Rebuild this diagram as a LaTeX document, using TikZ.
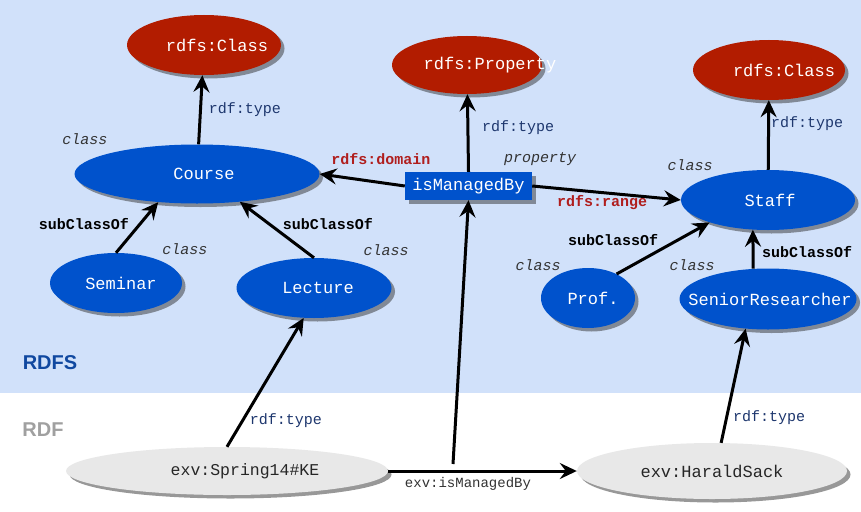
\documentclass[tikz,border=0pt]{standalone}
\usepackage{fontspec}
\setmainfont{Liberation Sans}
\setmonofont{Liberation Mono}
\usetikzlibrary{shapes.geometric,arrows.meta,shadows}
\definecolor{bgblue}{RGB}{209,225,250}
\definecolor{ndblue}{RGB}{0,82,204}
\definecolor{ndred}{RGB}{178,28,0}
\definecolor{ndgray}{RGB}{232,232,232}
\definecolor{lblblue}{RGB}{30,55,110}
\definecolor{lblred}{RGB}{176,30,30}
\definecolor{rdfsblue}{RGB}{16,72,160}
\definecolor{rdfgray}{RGB}{160,160,160}
\newcommand\shtx[2]{\makebox[0pt]{\hspace*{#1pt}#2}}
\begin{document}
\begin{tikzpicture}[x=1pt,y=-1pt,
  shad/.style={drop shadow={shadow xshift=3.5pt,shadow yshift=-3.5pt,opacity=.5,fill=black!80}},
  ell/.style={ellipse,inner sep=0pt,font=\ttfamily\fontsize{17}{20}\selectfont,shad},
  redell/.style={ell,fill=ndred,text=white},
  blueell/.style={ell,fill=ndblue,text=white},
  grayell/.style={ell,fill=ndgray,text=black!85},
  boxnode/.style={rectangle,fill=ndblue,text=white,inner sep=0pt,font=\ttfamily\fontsize{17}{20}\selectfont,shad},
  typelbl/.style={font=\ttfamily\fontsize{15}{18}\selectfont,text=lblblue,inner sep=0pt},
  clslbl/.style={font=\ttfamily\itshape\fontsize{15}{18}\selectfont,text=black!80,inner sep=0pt},
  sublbl/.style={font=\ttfamily\bfseries\fontsize{15}{18}\selectfont,text=black,inner sep=0pt},
  redlbl/.style={font=\ttfamily\bfseries\fontsize{15}{18}\selectfont,text=lblred,inner sep=0pt},
  exvlbl/.style={font=\ttfamily\fontsize{14}{17}\selectfont,text=black!80,inner sep=0pt},
  arr/.style={line width=3pt,-{Stealth[length=17pt,width=16pt,inset=6pt]}}
]
\useasboundingbox (0,0) rectangle (861,511);
\fill[bgblue] (0,0) rectangle (861,393);
\fill[white] (0,393) rectangle (861,511);

% nodes
\node[redell,minimum width=154pt,minimum height=60pt] (clsL) at (204,45) {\shtx{26}{rdfs:Class}};
\node[redell,minimum width=150pt,minimum height=58pt] (prop) at (467,65) {\shtx{46}{rdfs:Property}};
\node[redell,minimum width=152pt,minimum height=60pt] (clsR) at (769,70) {\shtx{30}{rdfs:Class}};
\node[blueell,minimum width=245pt,minimum height=59pt] (course) at (197,174) {\shtx{14}{Course}};
\node[blueell,minimum width=174pt,minimum height=60pt] (staff) at (768,200) {\shtx{4}{Staff}};
\node[blueell,minimum width=132pt,minimum height=60pt] (sem) at (116,283) {\shtx{10}{Seminar}};
\node[blueell,minimum width=155pt,minimum height=60pt] (lec) at (314,288) {\shtx{8}{Lecture}};
\node[blueell,minimum width=94pt,minimum height=60pt] (prof) at (588,298) {\shtx{10}{Prof.}};
\node[blueell,minimum width=177pt,minimum height=61pt] (sr) at (768,299) {\shtx{4}{SeniorResearcher}};
\node[grayell,minimum width=322pt,minimum height=48pt,font=\ttfamily\fontsize{16.5}{19}\selectfont] (spr) at (227,471) {\shtx{36}{exv:Spring14\#KE}};
\node[grayell,minimum width=270pt,minimum height=56pt] (har) at (712,471) {\shtx{0}{exv:HaraldSack}};
\node[boxnode,minimum width=127pt,minimum height=28pt] (ism) at (468.5,186) {isManagedBy};

% labels
\node[typelbl] (t1) at (245,110) {rdf:type};
\node[typelbl] (t2) at (518,128) {rdf:type};
\node[typelbl] (t3) at (807,124) {rdf:type};
\node[typelbl] (t4) at (286,421) {rdf:type};
\node[typelbl] (t5) at (769,418) {rdf:type};
\node[clslbl] (c1) at (85,139) {class};
\node[clslbl] (c2) at (185,249) {class};
\node[clslbl] (c3) at (386,250) {class};
\node[clslbl] (c4) at (690,165) {class};
\node[clslbl] (c5) at (538,265) {class};
\node[clslbl] (c6) at (692,265) {class};
\node[clslbl] (p1) at (540,159) {property};
\node[sublbl] (s1) at (84,224) {subClassOf};
\node[sublbl] (s2) at (328,224) {subClassOf};
\node[sublbl] (s3) at (613,240) {subClassOf};
\node[sublbl] (s4) at (807,252) {subClassOf};
\node[redlbl] (d1) at (381,159) {rdfs:domain};
\node[redlbl] (r1) at (602,203) {rdfs:range};
\node[exvlbl] (e1) at (468,484) {exv:isManagedBy};
\node[font=\bfseries\fontsize{20}{24}\selectfont,text=rdfsblue,inner sep=0pt] (rdfs) at (50,363) {RDFS};
\node[font=\bfseries\fontsize{20}{24}\selectfont,text=rdfgray,inner sep=0pt] (rdf) at (43,430) {RDF};

% connectors
\coordinate (m) at (453,464);
\draw[arr] (course) -- (clsL);
\draw[arr] (ism.west) -- (course.east);
\draw[arr] (ism.east) -- (staff.west);
\draw[arr] (ism.north) -- (prop);
\draw[arr] (staff) -- (clsR);
\draw[arr] (sem.north) -- (course.216);
\draw[arr] (lec.north) -- (course.327);
\draw[arr] (prof.40) -- (staff.201);
\draw[arr] (sr.116.6) -- (staff.243.4);
\draw[arr] (spr.north) -- (lec.251);
\draw[arr] (spr.east) -- (har.west);
\draw[arr] (m) -- (ism.south);
\draw[arr] (har.72) -- (sr.233.4);
\end{tikzpicture}
\end{document}
